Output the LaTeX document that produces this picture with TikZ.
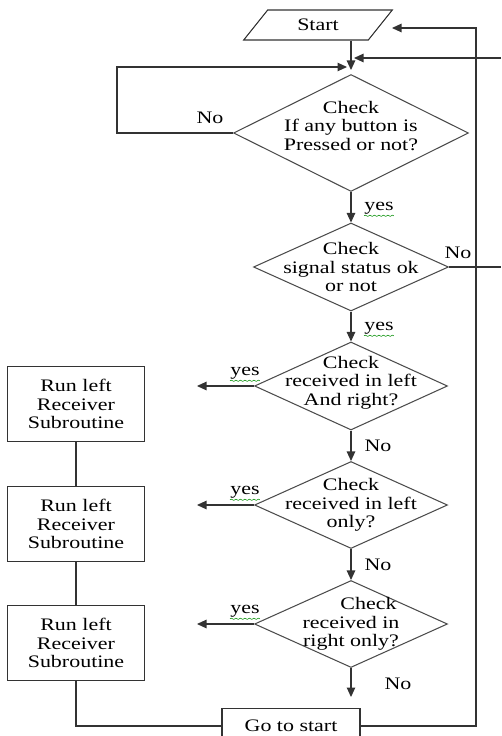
\documentclass[tikz,border=0pt]{standalone}
\usepackage{fontspec}
\setmainfont{Liberation Serif}[FakeStretch=1.25]
\usetikzlibrary{shapes.geometric,arrows.meta,decorations.pathmorphing}

\begin{document}
\begin{tikzpicture}[x=0.02cm,y=-0.02cm,
  font=\fontsize{10}{10.6}\selectfont,
  every node/.style={inner sep=0pt},
  line/.style={draw=black!80,line width=0.6pt},
  arr/.style={line,-{Triangle[length=1.9mm,width=1.7mm]}},
  decision/.style={diamond,draw=black!70,line width=0.6pt},
  process/.style={rectangle,draw=black!80,line width=0.6pt,align=center,
    minimum width=2.74cm,minimum height=1.5cm},
  squiggle/.style={draw=green!55!black,line width=0.3pt,decorate,
    decoration={snake,amplitude=0.35pt,segment length=0.9mm}}
]
  \useasboundingbox (0,0) rectangle (501,736);
  \clip (0,0) rectangle (501,736);

  \node[
    trapezium,
    trapezium left angle=50,
    trapezium right angle=130,
    trapezium stretches=true,
    minimum width=2.98cm,
    minimum height=0.6cm,
    draw=black!80,
    line width=0.6pt
  ] (start) at (318,25) {Start};

  \node[decision,minimum width=4.7cm,minimum height=2.34cm,
    label={[align=center,yshift=4pt]center:{Check\\If any button is\\ Pressed or not?}}] (d1) at (351,133) {};
  \node[decision,minimum width=3.9cm,minimum height=1.76cm,
    label={[align=center]center:{Check\\signal status ok\\or not}}] (d2) at (351,267) {};
  \node[decision,minimum width=3.86cm,minimum height=1.76cm,
    label={[align=center,yshift=2pt]center:{Check\\received in left\\And right?}}] (d3) at (351,386) {};
  \node[decision,minimum width=3.86cm,minimum height=1.74cm,
    label={[align=center]center:{Check\\received in left\\only?}}] (d4) at (351,505) {};
  \node[decision,minimum width=3.86cm,minimum height=1.74cm,
    label={[align=center]center:{\hspace*{0.7cm}Check\\received in\\right only?}}] (d5) at (351,624) {};

  \node[process] (run1) at (76,404) {Run left\\Receiver\\Subroutine};
  \node[process] (run2) at (76,524) {Run left\\Receiver\\Subroutine};
  \node[process] (run3) at (76,643) {Run left\\Receiver\\Subroutine};
  \node[process,minimum width=2.76cm,minimum height=0.7cm] (goto) at (291,726) {Go to start};

  \coordinate (merge) at (351,70);
  \coordinate (mergeL) at (347,67);
  \coordinate (loop) at (117,133);
  \coordinate (edgeA) at (501,58);
  \coordinate (tapA) at (354,58);
  \coordinate (edgeB) at (501,267);
  \coordinate (rt) at (476,28);
  \coordinate (startin) at (392,28);
  \coordinate (y3) at (197,386);
  \coordinate (y4) at (197,505);
  \coordinate (y5) at (197,624);
  \coordinate (end5) at (351,697);

  \draw[arr] (start.south -| d1.north) -- (merge);
  \draw[arr] (d1.west) -- (loop) |- (mergeL);
  \draw[arr] (edgeA) -- (tapA);
  \draw[arr] (d1.south) -- (d2.north);
  \draw[line] (d2.east) -- (edgeB);
  \draw[arr] (d2.south) -- (d3.north);
  \draw[arr] (d3.south) -- (d4.north);
  \draw[arr] (d4.south) -- (d5.north);
  \draw[arr] (d5.south) -- (end5);
  \draw[arr] (d3.west) -- (y3);
  \draw[arr] (d4.west) -- (y4);
  \draw[arr] (d5.west) -- (y5);
  \draw[line] (run1.south) -- (run2.north);
  \draw[line] (run2.south) -- (run3.north);
  \draw[line] (run3.south) |- (goto.west);
  \draw[arr] (goto.east) -| (rt) -- (startin);

  \node (no1) at (210,118) {No};
  \node (no2) at (458,253) {No};
  \node (no3) at (378,446) {No};
  \node (no4) at (378,565) {No};
  \node (no5) at (398,684) {No};
  \node (yes1) at (379,208) {yes};
  \node (yes2) at (379,328) {yes};
  \node (yes3) at (245,373) {yes};
  \node (yes4) at (245,492) {yes};
  \node (yes5) at (245,611) {yes};
  \foreach \y in {yes1,yes2,yes3,yes4,yes5}
    \draw[squiggle] ([yshift=-0.8pt]\y.south west) -- ([yshift=-0.8pt]\y.south east);
\end{tikzpicture}
\end{document}
